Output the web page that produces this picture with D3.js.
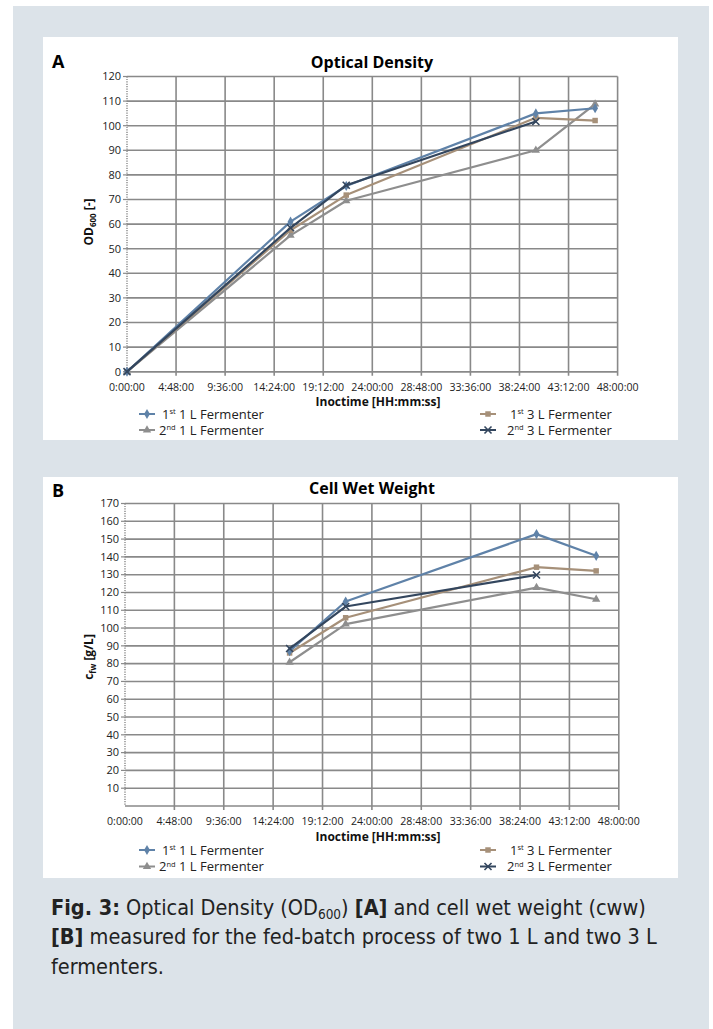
<!DOCTYPE html>
<html>
<head>
<meta charset="utf-8">
<script src="https://cdn.jsdelivr.net/npm/d3@7.9.0/dist/d3.min.js"></script>
<style>
  body { margin: 0; background: #fff; }
  svg { display: block; }
</style>
</head>
<body>
<svg id="fig" width="713" height="1029"></svg>
<script>
// ---------- data ----------
const seriesNames = ['1st 1 L Fermenter', '2nd 1 L Fermenter', '1st 3 L Fermenter', '2nd 3 L Fermenter'];

// sample times in hours after inoculation
const hoursOD = [0, 16.0, 21.45, 40.0, 45.8];
const hoursCWW = [16.0, 21.45, 40.0, 45.8];

// A: optical density OD600 [-]
const od1st1L = [0, 61.0, 75.5, 105.0, 107.1];
const od2nd1L = [0, 55.4, 69.5, 90.0, 108.8];
const od1st3L = [0, 57.5, 71.8, 103.2, 102.1];
const od2nd3L = [0, 58.5, 75.8, 101.7];

// B: cell wet weight [g/L]
const cww1st1L = [87.0, 114.9, 152.8, 140.6];
const cww2nd1L = [80.8, 102.2, 122.7, 116.2];
const cww1st3L = [86.0, 105.8, 134.2, 132.1];
const cww2nd3L = [88.5, 112.1, 129.8];

const timeTickHours = [0, 4.8, 9.6, 14.4, 19.2, 24, 28.8, 33.6, 38.4, 43.2, 48];
const timeTickLabels = ['0:00:00', '4:48:00', '9:36:00', '14:24:00', '19:12:00', '24:00:00',
  '28:48:00', '33:36:00', '38:24:00', '43:12:00', '48:00:00'];
const odTicks = [0, 10, 20, 30, 40, 50, 60, 70, 80, 90, 100, 110, 120];
const cwwTicks = [10, 20, 30, 40, 50, 60, 70, 80, 90, 100, 110, 120, 130, 140, 150, 160, 170];

// ---------- styles ----------
const seriesColor = ['#5f82a8', '#8e8e8e', '#a69079', '#33465e'];
const seriesSymbol = [d3.symbolDiamond, d3.symbolTriangle, d3.symbolSquare, d3.symbolTimes];
const gridColor = '#898989';
const chartFont = "'Open Sans', 'Noto Sans', sans-serif";

const svg = d3.select('#fig');

// page background
svg.append('rect').attr('x', 13).attr('y', 6).attr('width', 696).attr('height', 1023).attr('fill', '#dce3e9');

function marker(g, i, x, y) {
  const sym = d3.symbol().type(seriesSymbol[i]).size(i === 3 ? 34 : 30);
  const p = g.append('path')
    .attr('d', sym())
    .attr('transform', `translate(${x},${y})`);
  if (i === 3) p.attr('fill', 'none').attr('stroke', seriesColor[i]).attr('stroke-width', 1.6);
  else p.attr('fill', seriesColor[i]);
}

function drawPanel(cfg) {
  const g = svg.append('g');
  g.append('rect').attr('x', 43).attr('y', cfg.panelTop).attr('width', 635).attr('height', cfg.panelH).attr('fill', '#fff');

  const x = d3.scaleLinear().domain([0, 48]).range([cfg.left, cfg.right]);
  const y = d3.scaleLinear().domain([0, cfg.yMax]).range([cfg.bottom, cfg.top]);

  // letter + title
  g.append('text').attr('x', 52).attr('y', cfg.letterY).text(cfg.letter)
    .attr('font-family', chartFont).attr('font-weight', 700).attr('font-size', 18).attr('fill', '#000');
  g.append('text').attr('x', 372).attr('y', cfg.titleY).attr('text-anchor', 'middle').text(cfg.title)
    .attr('font-family', chartFont).attr('font-weight', 700).attr('font-size', 16).attr('fill', '#000');

  // grid
  const grid = g.append('g').attr('stroke', gridColor).attr('stroke-width', 1.6);
  [0].concat(cfg.yTicks).forEach(v => {
    grid.append('line').attr('x1', cfg.left).attr('x2', cfg.right).attr('y1', y(v)).attr('y2', y(v));
  });
  timeTickHours.slice(1).forEach(h => {
    grid.append('line').attr('x1', x(h)).attr('x2', x(h)).attr('y1', cfg.top).attr('y2', cfg.bottom + 4);
  });

  // left axis (dotted) with ticks
  g.append('line').attr('x1', cfg.left).attr('x2', cfg.left).attr('y1', cfg.top).attr('y2', cfg.bottom)
    .attr('stroke', gridColor).attr('stroke-width', 1.4).attr('stroke-dasharray', '1.2,1.2');
  cfg.yTicks.forEach(v => {
    g.append('line').attr('x1', cfg.left - 4).attr('x2', cfg.left).attr('y1', y(v)).attr('y2', y(v))
      .attr('stroke', gridColor).attr('stroke-width', 1.2);
  });

  // y tick labels
  g.append('g').selectAll('text').data(cfg.yTicks).join('text')
    .attr('x', cfg.left - 6).attr('y', d => y(d) + 3.8).attr('text-anchor', 'end')
    .attr('font-family', chartFont).attr('font-size', 11).attr('fill', '#222')
    .text(d => d);

  // x tick labels
  g.append('g').selectAll('text').data(timeTickHours).join('text')
    .attr('x', d => x(d)).attr('y', cfg.xLabelY).attr('text-anchor', 'middle')
    .attr('font-family', chartFont).attr('font-size', 10.6).attr('fill', '#222')
    .text((d, i) => timeTickLabels[i]);

  g.append('text').attr('x', 378).attr('y', cfg.xTitleY).attr('text-anchor', 'middle')
    .attr('font-family', chartFont).attr('font-weight', 700).attr('font-size', 12).attr('fill', '#111')
    .text('Inoctime [HH:mm:ss]');

  // y title
  const yt = g.append('text')
    .attr('transform', `translate(${cfg.yTitleX},${cfg.yTitleY}) rotate(-90)`)
    .attr('text-anchor', 'middle')
    .attr('font-family', chartFont).attr('font-weight', 700).attr('font-size', 12).attr('fill', '#111');
  yt.append('tspan').text(cfg.yTitleMain);
  yt.append('tspan').attr('font-size', 8).attr('dy', 3).text(cfg.yTitleSub);
  yt.append('tspan').attr('dy', -3).text(' ' + cfg.yTitleUnit);

  // series
  const line = d3.line().x(d => x(d[0])).y(d => y(d[1]));
  const order = [1, 2, 0, 3];
  order.forEach(i => {
    const vals = cfg.values[i];
    const pts = vals.map((v, k) => [cfg.hours[k], v]);
    g.append('path').attr('d', line(pts)).attr('fill', 'none')
      .attr('stroke', seriesColor[i]).attr('stroke-width', 2.2).attr('stroke-linejoin', 'round');
    pts.forEach(p => marker(g, i, x(p[0]), y(p[1])));
  });

  // legend
  const legendPos = [
    { lx: 139, tx: 162, row: 0 },
    { lx: 139, tx: 159, row: 1 },
    { lx: 480, tx: 510, row: 0 },
    { lx: 480, tx: 507, row: 1 }
  ];
  legendPos.forEach((lp, i) => {
    const cy = cfg.legendY + lp.row * cfg.legendGap;
    g.append('line').attr('x1', lp.lx).attr('x2', lp.lx + 16).attr('y1', cy).attr('y2', cy)
      .attr('stroke', seriesColor[i]).attr('stroke-width', 2);
    marker(g, i, lp.lx + 8, cy);
    const name = seriesNames[i];
    const t = g.append('text').attr('x', lp.tx).attr('y', cy + 4.5)
      .attr('font-family', chartFont).attr('font-size', 13).attr('fill', '#222');
    t.append('tspan').text(name.slice(0, 1));
    t.append('tspan').attr('font-size', 7.5).attr('dy', -4.5).text(name.slice(1, 3));
    t.append('tspan').attr('dy', 4.5).text(name.slice(3));
  });
}

drawPanel({
  panelTop: 37, panelH: 403,
  letter: 'A', letterY: 68, title: 'Optical Density', titleY: 68,
  left: 127, right: 617.6, top: 76.5, bottom: 371.7,
  yMax: 120, yTicks: odTicks,
  xLabelY: 390.5, xTitleY: 406,
  yTitleX: 93, yTitleY: 222, yTitleMain: 'OD', yTitleSub: '600', yTitleUnit: '[-]',
  hours: hoursOD, values: [od1st1L, od2nd1L, od1st3L, od2nd3L],
  legendY: 414, legendGap: 16
});

drawPanel({
  panelTop: 477, panelH: 401,
  letter: 'B', letterY: 497, title: 'Cell Wet Weight', titleY: 494,
  left: 125, right: 618.8, top: 503.5, bottom: 806,
  yMax: 170, yTicks: cwwTicks,
  xLabelY: 825, xTitleY: 841,
  yTitleX: 93, yTitleY: 657, yTitleMain: 'c', yTitleSub: 'fw', yTitleUnit: '[g/L]',
  hours: hoursCWW, values: [cww1st1L, cww2nd1L, cww1st3L, cww2nd3L],
  legendY: 850, legendGap: 16.5
});

// ---------- caption ----------
const captionLines = [
  [['Fig. 3:', true], [' Optical Density (OD', false], ['600', false, 'sub'], [') ', false], ['[A]', true], [' and cell wet weight (cww)', false]],
  [['[B]', true], [' measured for the fed-batch process of two 1 L and two 3 L', false]],
  [['fermenters.', false]]
];
const captionFont = "'Liberation Sans Narrow', 'DejaVu Sans Condensed', 'Roboto', sans-serif";
captionLines.forEach((parts, li) => {
  const t = svg.append('text').attr('x', 51).attr('y', 915 + li * 29.3)
    .attr('font-family', captionFont).attr('font-size', 21.5).attr('fill', '#222');
  let shifted = false;
  parts.forEach(([s, bold, kind]) => {
    const sp = t.append('tspan').text(s).attr('font-weight', bold ? 700 : 400);
    if (kind === 'sub') { sp.attr('font-size', 13.5).attr('dy', 4); shifted = true; }
    else if (shifted) { sp.attr('dy', -4); shifted = false; }
  });
});
</script>
</body>
</html>
